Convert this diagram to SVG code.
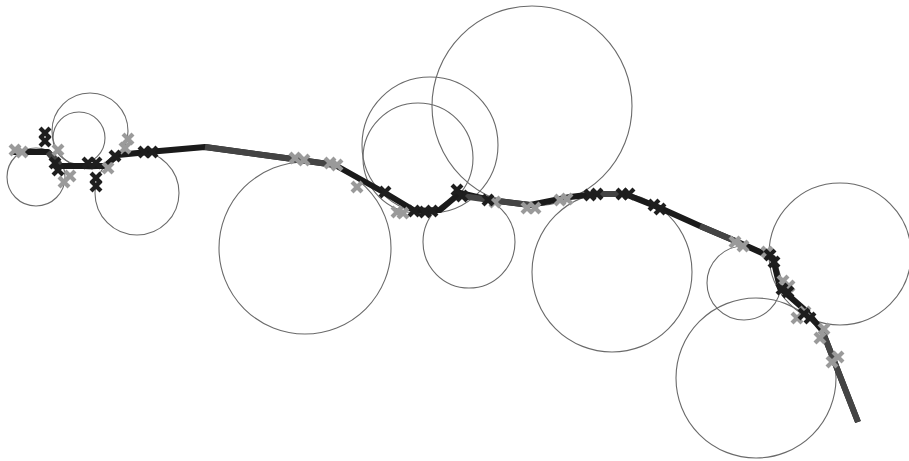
<svg xmlns="http://www.w3.org/2000/svg" width="909" height="461" viewBox="0 0 909 461">
<defs>
<style>
.c{fill:none;stroke:#6a6a6a;stroke-width:1.1}
.t{fill:none;stroke:#1a1a1a;stroke-width:6;stroke-linejoin:round;stroke-linecap:butt}
.t2{fill:none;stroke:#444;stroke-width:6;stroke-linecap:butt}
.g{stroke:#9a9a9a}
.d{stroke:#1e1e1e}
</style>
<path id="x" d="M-3.5,-3.5 L3.5,3.5 M-3.5,3.5 L3.5,-3.5" fill="none" stroke-width="4.2" stroke-linecap="square"/>
</defs>
<rect width="909" height="461" fill="#fff"/>
<g id="circles">
<circle class="c" cx="36" cy="177" r="29"/>
<circle class="c" cx="90" cy="131" r="38"/>
<circle class="c" cx="79" cy="138" r="26"/>
<circle class="c" cx="137" cy="193" r="42"/>
<circle class="c" cx="305" cy="248" r="86"/>
<circle class="c" cx="430" cy="145" r="68"/>
<circle class="c" cx="418" cy="158" r="55"/>
<circle class="c" cx="532" cy="106" r="100"/>
<circle class="c" cx="469" cy="242" r="46"/>
<circle class="c" cx="612" cy="272" r="80"/>
<circle class="c" cx="840" cy="254" r="71"/>
<circle class="c" cx="744" cy="283" r="37"/>
<circle class="c" cx="756" cy="378" r="80"/>
</g>
<g id="track">
<polyline class="t" points="12,152 48,152 60,166 105,166 118,155 148,152 205,147 300,160 335,165 385,193 415,211 440,210 460,193 490,200 530,205 570,197 595,194 625,194 660,208 700,226 740,243 773,258 780,288 805,310 822,330 858,422"/>
<polyline class="t2" points="205,147 300,160 335,165"/>
<polyline class="t2" points="462,196 490,200 530,205"/>
<polyline class="t2" points="597,194 622,194"/>
<polyline class="t2" points="700,226 740,243"/>
<polyline class="t2" points="822,330 858,422"/>
<polyline class="t2" points="48,152 60,166"/>
</g>
<g id="gray-markers" class="g">
<use href="#x" x="15" y="150"/><use href="#x" x="22" y="152"/><use href="#x" x="58" y="150"/>
<use href="#x" x="64" y="182"/><use href="#x" x="70" y="176"/><use href="#x" x="108" y="168"/>
<use href="#x" x="128" y="139"/><use href="#x" x="125" y="148"/>
<use href="#x" x="295" y="158"/><use href="#x" x="304" y="160"/><use href="#x" x="330" y="163"/><use href="#x" x="337" y="165"/>
<use href="#x" x="357" y="187"/><use href="#x" x="397" y="212"/><use href="#x" x="403" y="213"/>
<use href="#x" x="495" y="202"/><use href="#x" x="527" y="208"/><use href="#x" x="535" y="208"/>
<use href="#x" x="560" y="200"/><use href="#x" x="567" y="199"/>
<use href="#x" x="735" y="242"/><use href="#x" x="743" y="246"/><use href="#x" x="767" y="252"/>
<use href="#x" x="783" y="281"/><use href="#x" x="789" y="286"/><use href="#x" x="797" y="318"/><use href="#x" x="805" y="312"/>
<use href="#x" x="824" y="329"/><use href="#x" x="820" y="338"/><use href="#x" x="832" y="362"/><use href="#x" x="838" y="357"/>
</g>
<g id="dark-markers" class="d">
<use href="#x" x="45" y="133"/><use href="#x" x="45" y="141"/><use href="#x" x="55" y="163"/><use href="#x" x="58" y="170"/>
<use href="#x" x="88" y="163"/><use href="#x" x="96" y="163"/><use href="#x" x="96" y="178"/><use href="#x" x="96" y="186"/>
<use href="#x" x="115" y="156"/><use href="#x" x="144" y="152"/><use href="#x" x="152" y="152"/>
<use href="#x" x="385" y="192"/><use href="#x" x="414" y="211"/><use href="#x" x="425" y="212"/><use href="#x" x="432" y="211"/>
<use href="#x" x="457" y="190"/><use href="#x" x="462" y="196"/><use href="#x" x="488" y="200"/>
<use href="#x" x="590" y="195"/><use href="#x" x="597" y="194"/><use href="#x" x="622" y="194"/><use href="#x" x="629" y="194"/>
<use href="#x" x="654" y="205"/><use href="#x" x="660" y="209"/>
<use href="#x" x="770" y="255"/><use href="#x" x="774" y="262"/><use href="#x" x="782" y="289"/><use href="#x" x="788" y="292"/>
<use href="#x" x="804" y="314"/><use href="#x" x="810" y="318"/>
</g>
</svg>
